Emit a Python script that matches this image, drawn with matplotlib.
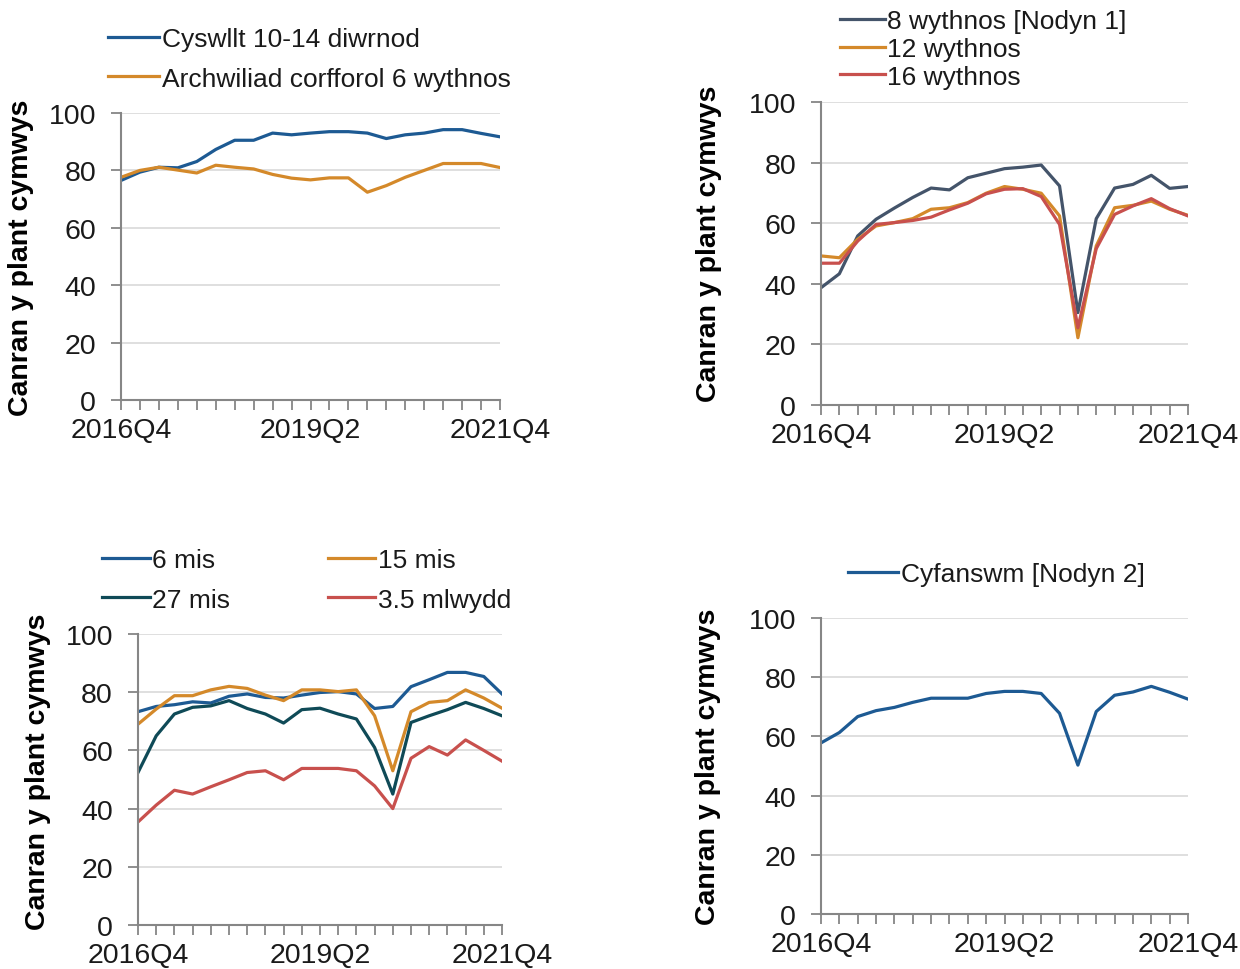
import matplotlib
matplotlib.use("Agg")
import matplotlib.pyplot as plt
from matplotlib.ticker import FixedLocator, MultipleLocator

plt.rcParams['font.family'] = ['Liberation Sans', 'DejaVu Sans']
plt.rcParams['text.color'] = '#1a1a1a'

# === Données ===
chwarteri = ['2016Q4', '2017Q1', '2017Q2', '2017Q3', '2017Q4', '2018Q1', '2018Q2',
             '2018Q3', '2018Q4', '2019Q1', '2019Q2', '2019Q3', '2019Q4', '2020Q1',
             '2020Q2', '2020Q3', '2020Q4', '2021Q1', '2021Q2', '2021Q3', '2021Q4']
labeli_x = ['2016Q4', '2019Q2', '2021Q4']

cyswllt = [76.5, 79.4, 81.1, 80.9, 83.1, 87.3, 90.5, 90.5, 93.0, 92.4, 93.0,
           93.5, 93.5, 93.0, 91.1, 92.4, 93.0, 94.2, 94.2, 92.9, 91.7]
archwiliad = [77.6, 80.0, 81.1, 80.1, 79.1, 81.8, 81.1, 80.5, 78.6, 77.3, 76.7,
              77.4, 77.4, 72.4, 74.7, 77.6, 80.0, 82.4, 82.4, 82.4, 81.0]

wyth_wythnos = [38.7, 43.3, 55.8, 61.3, 65.0, 68.5, 71.6, 71.0, 75.0, 76.5, 78.0,
                78.5, 79.2, 72.3, 30.5, 61.5, 71.6, 72.8, 75.8, 71.5, 72.1]
deuddeg_wythnos = [49.2, 48.6, 54.7, 59.1, 60.2, 61.5, 64.6, 65.1, 66.8, 69.9, 72.1,
                   71.2, 69.9, 62.4, 22.2, 52.5, 65.1, 65.9, 67.3, 64.6, 62.6]
un_deg_chwech_wythnos = [46.8, 46.8, 54.1, 59.6, 60.2, 60.9, 62.0, 64.4, 66.6, 69.7, 71.2,
                         71.4, 68.8, 59.6, 25.5, 51.6, 62.9, 65.7, 68.1, 64.8, 62.4]

chwe_mis = [73.3, 75.1, 75.7, 76.7, 76.3, 78.6, 79.4, 78.2, 78.0, 79.0, 79.9,
            80.2, 79.4, 74.4, 75.1, 81.9, 84.3, 86.8, 86.8, 85.4, 79.4]
pymtheg_mis = [69.0, 74.2, 78.8, 78.8, 80.8, 82.0, 81.3, 79.0, 77.1, 80.8, 80.8,
               80.2, 80.8, 71.9, 53.0, 73.3, 76.5, 77.1, 80.8, 78.0, 74.5]
dau_ddeg_saith_mis = [52.4, 65.0, 72.5, 74.8, 75.3, 77.1, 74.4, 72.5, 69.4, 74.0, 74.5,
                      72.5, 70.8, 61.0, 45.0, 69.6, 71.9, 74.0, 76.5, 74.4, 71.9]
tair_hanner_mlwydd = [35.4, 41.2, 46.3, 45.0, 47.5, 49.9, 52.4, 53.0, 49.9, 53.8, 53.8,
                      53.8, 53.0, 47.8, 40.0, 57.3, 61.3, 58.4, 63.6, 60.0, 56.3]

cyfanswm = [57.8, 61.3, 66.7, 68.7, 69.8, 71.5, 72.9, 72.9, 72.9, 74.5, 75.2,
            75.2, 74.5, 67.8, 50.3, 68.4, 73.9, 75.0, 76.9, 74.9, 72.6]

glas = '#1d5a93'
oren = '#d4892a'
llwyd = '#44546a'
coch = '#c8504d'
gwyrddlas = '#0f4a57'

ylabel = 'Canran y plant cymwys'

fig = plt.figure(figsize=(12.4, 9.7), dpi=100)
W, H = 1240, 970


def make_ax(left, right, top, bottom):
    return fig.add_axes([left / W, 1 - bottom / H, (right - left) / W, (bottom - top) / H])


def style(ax, lab_x, lab_y):
    ax.set_xlim(0, len(chwarteri) - 1)
    ax.set_ylim(0, 100)
    ax.set_yticks(range(0, 101, 20))
    ax.xaxis.set_major_locator(FixedLocator([chwarteri.index(l) for l in labeli_x]))
    ax.set_xticklabels(labeli_x)
    ax.xaxis.set_minor_locator(MultipleLocator(1))
    ax.tick_params(axis='both', which='both', direction='out', color='#868686',
                   width=1.3, labelsize=20.5, labelcolor='#1a1a1a')
    ax.tick_params(axis='x', which='both', length=7, pad=5)
    ax.tick_params(axis='y', length=7, pad=11)
    for s in ['top', 'right']:
        ax.spines[s].set_visible(False)
    for s in ['left', 'bottom']:
        ax.spines[s].set_color('#868686')
        ax.spines[s].set_linewidth(1.5)
    ax.grid(axis='y', color='#d9d9d9', linewidth=1.2)
    ax.set_axisbelow(True)
    ax.set_ylabel(ylabel, fontsize=20.5, fontweight='bold', va='center')
    ax.yaxis.set_label_coords(lab_x, lab_y)


def legend(ax, x_px, y_px, handlelength=2.0, labelspacing=0.0):
    ax.legend(loc='center left', bbox_to_anchor=(x_px / W, 1 - y_px / H),
              bbox_transform=fig.transFigure, frameon=False, fontsize=19,
              borderpad=0, borderaxespad=0, handlelength=handlelength,
              handletextpad=0.1, labelspacing=labelspacing)


x = list(range(len(chwarteri)))

# Panel 1
ax1 = make_ax(121, 500, 114, 401)
ax1.plot(x, cyswllt, color=glas, lw=2.3, label='Cyswllt 10-14 diwrnod')
ax1.plot(x, archwiliad, color=oren, lw=2.3, label='Archwiliad corfforol 6 wythnos')
style(ax1, -0.265, 0.5)
legend(ax1, 108, 60, handlelength=1.95, labelspacing=0.57)

# Panel 2
ax2 = make_ax(821, 1188, 103, 406)
ax2.plot(x, wyth_wythnos, color=llwyd, lw=2.3, label='8 wythnos [Nodyn 1]')
ax2.plot(x, deuddeg_wythnos, color=oren, lw=2.3, label='12 wythnos')
ax2.plot(x, un_deg_chwech_wythnos, color=coch, lw=2.3, label='16 wythnos')
style(ax2, -0.305, 0.535)
legend(ax2, 840, 50, handlelength=1.7, labelspacing=0.14)

# Panel 3
ax3 = make_ax(138, 502, 635, 926)
l1, = ax3.plot(x, chwe_mis, color=glas, lw=2.3, label='6 mis')
l2, = ax3.plot(x, pymtheg_mis, color=oren, lw=2.3, label='15 mis')
l3, = ax3.plot(x, dau_ddeg_saith_mis, color=gwyrddlas, lw=2.3, label='27 mis')
l4, = ax3.plot(x, tair_hanner_mlwydd, color=coch, lw=2.3, label='3.5 mlwydd')
style(ax3, -0.275, 0.53)
ax3.legend([l1, l3, l2, l4], ['6 mis', '27 mis', '15 mis', '3.5 mlwydd'],
           loc='center left', bbox_to_anchor=(102 / W, 1 - 581 / H),
           bbox_transform=fig.transFigure, frameon=False, fontsize=19,
           borderpad=0, borderaxespad=0, handlelength=1.8, handletextpad=0.1,
           labelspacing=0.57, ncol=2, columnspacing=3.7)

# Panel 4
ax4 = make_ax(821, 1188, 619, 915)
ax4.plot(x, cyfanswm, color=glas, lw=2.3, label='Cyfanswm [Nodyn 2]')
style(ax4, -0.307, 0.5)
legend(ax4, 848, 575, handlelength=1.9)

fig.savefig('out.png', dpi=100)
